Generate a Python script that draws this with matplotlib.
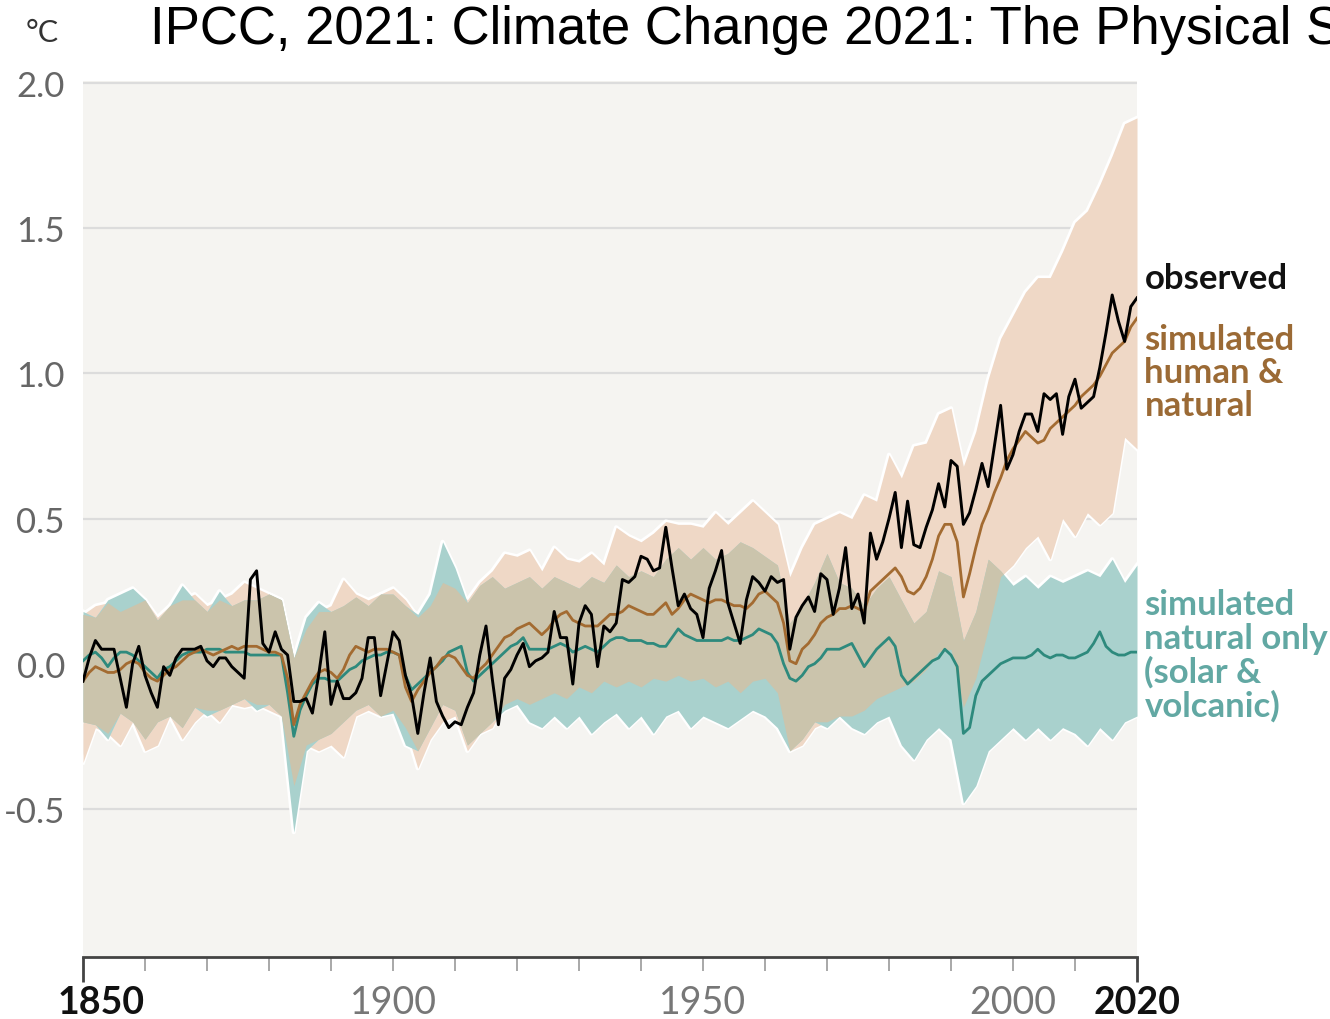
import numpy as np
import matplotlib
matplotlib.use("Agg")
import matplotlib.pyplot as plt
import matplotlib.transforms as mtransforms

# annual series 1850-2020 (deg C relative to 1850-1900)
years = np.arange(1850, 2021)

observed = [
    -0.06, 0.02, 0.08, 0.05, 0.05, 0.05, -0.05, -0.15, 0.00, 0.06,
    -0.04, -0.10, -0.15, -0.01, -0.04, 0.02, 0.05, 0.05, 0.05, 0.06,
    0.01, -0.01, 0.02, 0.02, -0.01, -0.03, -0.05, 0.29, 0.32, 0.07,
    0.04, 0.11, 0.05, 0.03, -0.13, -0.13, -0.12, -0.17, -0.04, 0.11,
    -0.14, -0.06, -0.12, -0.12, -0.10, -0.05, 0.09, 0.09, -0.11, 0.00,
    0.11, 0.08, -0.04, -0.11, -0.24, -0.10, 0.02, -0.13, -0.18, -0.22,
    -0.20, -0.21, -0.15, -0.10, 0.03, 0.13, -0.05, -0.21, -0.05, -0.02,
    0.03, 0.07, -0.01, 0.01, 0.02, 0.04, 0.18, 0.09, 0.09, -0.07,
    0.14, 0.20, 0.17, -0.01, 0.13, 0.11, 0.14, 0.29, 0.28, 0.30,
    0.37, 0.36, 0.32, 0.33, 0.47, 0.33, 0.20, 0.24, 0.19, 0.17,
    0.09, 0.26, 0.32, 0.39, 0.21, 0.14, 0.07, 0.22, 0.30, 0.28,
    0.25, 0.30, 0.28, 0.29, 0.05, 0.16, 0.20, 0.23, 0.18, 0.31,
    0.29, 0.17, 0.26, 0.40, 0.19, 0.24, 0.14, 0.45, 0.36, 0.42,
    0.50, 0.59, 0.40, 0.56, 0.41, 0.40, 0.47, 0.53, 0.62, 0.54,
    0.70, 0.68, 0.48, 0.52, 0.60, 0.69, 0.61, 0.75, 0.89, 0.67,
    0.72, 0.80, 0.86, 0.86, 0.80, 0.93, 0.91, 0.93, 0.79, 0.92,
    0.98, 0.88, 0.90, 0.92, 1.02, 1.14, 1.27, 1.18, 1.11, 1.23,
    1.26,
]

sim_human_natural = [
    -0.06, -0.03, -0.01, -0.02, -0.03, -0.03, -0.02, 0.00, 0.01, 0.00,
    -0.03, -0.05, -0.06, -0.04, -0.02, -0.01, 0.01, 0.03, 0.04, 0.05,
    0.04, 0.03, 0.04, 0.05, 0.06, 0.05, 0.06, 0.06, 0.06, 0.05,
    0.04, 0.04, 0.03, -0.05, -0.21, -0.14, -0.10, -0.06, -0.03, -0.02,
    -0.03, -0.05, -0.02, 0.03, 0.06, 0.05, 0.04, 0.05, 0.05, 0.05,
    0.04, 0.03, -0.08, -0.13, -0.09, -0.06, -0.03, -0.01, 0.02, 0.03,
    0.02, -0.01, -0.04, -0.05, -0.02, 0.00, 0.03, 0.06, 0.09, 0.10,
    0.12, 0.13, 0.14, 0.12, 0.10, 0.12, 0.15, 0.17, 0.18, 0.15,
    0.14, 0.13, 0.13, 0.13, 0.15, 0.17, 0.17, 0.18, 0.20, 0.19,
    0.18, 0.17, 0.17, 0.19, 0.21, 0.17, 0.19, 0.22, 0.24, 0.23,
    0.22, 0.21, 0.22, 0.22, 0.21, 0.20, 0.20, 0.19, 0.21, 0.24,
    0.25, 0.23, 0.21, 0.14, 0.01, 0.00, 0.05, 0.07, 0.10, 0.14,
    0.16, 0.17, 0.19, 0.19, 0.20, 0.19, 0.18, 0.25, 0.27, 0.29,
    0.31, 0.33, 0.30, 0.25, 0.24, 0.26, 0.30, 0.36, 0.44, 0.48,
    0.48, 0.42, 0.23, 0.31, 0.40, 0.48, 0.53, 0.59, 0.64, 0.70,
    0.74, 0.77, 0.80, 0.78, 0.76, 0.77, 0.81, 0.83, 0.85, 0.87,
    0.89, 0.92, 0.94, 0.96, 0.99, 1.03, 1.07, 1.09, 1.11, 1.16,
    1.19,
]

sim_natural = [
    0.01, 0.03, 0.04, 0.02, -0.01, 0.02, 0.04, 0.04, 0.03, 0.01,
    -0.01, -0.03, -0.05, -0.02, -0.01, 0.01, 0.03, 0.04, 0.04, 0.04,
    0.05, 0.05, 0.05, 0.04, 0.04, 0.04, 0.04, 0.03, 0.03, 0.03,
    0.03, 0.03, 0.03, -0.10, -0.25, -0.16, -0.11, -0.07, -0.05, -0.05,
    -0.06, -0.06, -0.04, -0.02, -0.01, 0.01, 0.02, 0.03, 0.03, 0.04,
    0.04, 0.03, -0.04, -0.09, -0.07, -0.05, -0.03, -0.01, 0.01, 0.04,
    0.05, 0.06, -0.03, -0.06, -0.04, -0.02, 0.00, 0.02, 0.04, 0.06,
    0.07, 0.09, 0.05, 0.05, 0.05, 0.05, 0.06, 0.07, 0.06, 0.04,
    0.05, 0.06, 0.05, 0.04, 0.06, 0.08, 0.09, 0.09, 0.08, 0.08,
    0.08, 0.07, 0.07, 0.06, 0.06, 0.09, 0.12, 0.10, 0.09, 0.08,
    0.08, 0.08, 0.08, 0.08, 0.09, 0.08, 0.08, 0.09, 0.10, 0.12,
    0.11, 0.10, 0.07, 0.00, -0.05, -0.06, -0.04, -0.01, 0.00, 0.02,
    0.05, 0.05, 0.05, 0.06, 0.07, 0.03, -0.01, 0.02, 0.05, 0.07,
    0.09, 0.06, -0.04, -0.07, -0.05, -0.03, -0.01, 0.01, 0.02, 0.05,
    0.03, -0.01, -0.24, -0.22, -0.11, -0.06, -0.04, -0.02, 0.00, 0.01,
    0.02, 0.02, 0.02, 0.03, 0.05, 0.03, 0.02, 0.03, 0.03, 0.02,
    0.02, 0.03, 0.04, 0.07, 0.11, 0.06, 0.04, 0.03, 0.03, 0.04,
    0.04,
]

# ranges, every second year
band_years = np.arange(1850, 2021, 2)

hn_upper = [
    0.17, 0.20, 0.21, 0.18, 0.20, 0.22, 0.16, 0.20, 0.22, 0.24,
    0.20, 0.22, 0.24, 0.28, 0.26, 0.24, 0.22, 0.02, 0.12, 0.18,
    0.20, 0.29, 0.24, 0.22, 0.24, 0.26, 0.22, 0.16, 0.20, 0.28,
    0.26, 0.22, 0.28, 0.32, 0.38, 0.37, 0.39, 0.32, 0.40, 0.36,
    0.35, 0.38, 0.34, 0.47, 0.44, 0.42, 0.45, 0.49, 0.48, 0.48,
    0.47, 0.52, 0.48, 0.52, 0.56, 0.52, 0.48, 0.30, 0.40, 0.48,
    0.50, 0.52, 0.50, 0.58, 0.56, 0.72, 0.64, 0.75, 0.76, 0.86,
    0.88, 0.68, 0.80, 0.98, 1.12, 1.20, 1.28, 1.33, 1.33, 1.42,
    1.52, 1.56, 1.65, 1.75, 1.86, 1.88,
]
hn_lower = [
    -0.34, -0.22, -0.24, -0.28, -0.20, -0.30, -0.28, -0.18, -0.26, -0.20,
    -0.16, -0.20, -0.14, -0.15, -0.14, -0.16, -0.18, -0.42, -0.28, -0.30,
    -0.28, -0.32, -0.18, -0.16, -0.18, -0.16, -0.22, -0.36, -0.26, -0.20,
    -0.18, -0.30, -0.24, -0.22, -0.14, -0.12, -0.14, -0.12, -0.10, -0.12,
    -0.08, -0.10, -0.06, -0.08, -0.06, -0.08, -0.05, -0.06, -0.04, -0.06,
    -0.05, -0.08, -0.06, -0.10, -0.06, -0.05, -0.10, -0.30, -0.28, -0.22,
    -0.20, -0.18, -0.18, -0.16, -0.12, -0.10, -0.08, -0.06, -0.02, 0.04,
    0.05, -0.15, -0.05, 0.12, 0.30, 0.34, 0.40, 0.44, 0.36, 0.50,
    0.44, 0.52, 0.48, 0.52, 0.78, 0.74,
]
nat_upper = [
    0.18, 0.16, 0.22, 0.24, 0.26, 0.22, 0.15, 0.20, 0.27, 0.22,
    0.18, 0.25, 0.20, 0.22, 0.22, 0.24, 0.22, 0.02, 0.16, 0.21,
    0.18, 0.20, 0.23, 0.20, 0.24, 0.24, 0.20, 0.17, 0.24, 0.42,
    0.33, 0.21, 0.27, 0.30, 0.26, 0.28, 0.30, 0.26, 0.30, 0.28,
    0.26, 0.30, 0.28, 0.34, 0.30, 0.32, 0.30, 0.36, 0.40, 0.36,
    0.40, 0.36, 0.38, 0.42, 0.40, 0.37, 0.34, 0.14, 0.20, 0.28,
    0.38, 0.28, 0.26, 0.20, 0.26, 0.30, 0.22, 0.14, 0.18, 0.32,
    0.30, 0.08, 0.18, 0.36, 0.32, 0.27, 0.30, 0.26, 0.30, 0.28,
    0.30, 0.32, 0.30, 0.36, 0.28, 0.34,
]
nat_lower = [
    -0.20, -0.21, -0.26, -0.17, -0.20, -0.26, -0.20, -0.18, -0.22, -0.15,
    -0.18, -0.16, -0.14, -0.12, -0.16, -0.14, -0.18, -0.58, -0.30, -0.26,
    -0.24, -0.20, -0.16, -0.14, -0.18, -0.17, -0.28, -0.30, -0.22, -0.14,
    -0.16, -0.28, -0.24, -0.20, -0.16, -0.14, -0.20, -0.22, -0.18, -0.22,
    -0.18, -0.24, -0.20, -0.17, -0.22, -0.18, -0.24, -0.18, -0.16, -0.22,
    -0.18, -0.20, -0.22, -0.19, -0.16, -0.18, -0.22, -0.30, -0.26, -0.20,
    -0.22, -0.18, -0.22, -0.24, -0.20, -0.18, -0.28, -0.33, -0.26, -0.22,
    -0.26, -0.48, -0.42, -0.30, -0.26, -0.22, -0.26, -0.22, -0.26, -0.22,
    -0.24, -0.28, -0.22, -0.26, -0.20, -0.18,
]

yticks = [-0.5, 0.0, 0.5, 1.0, 1.5, 2.0]
ytick_labels = ["-0.5", "0.0", "0.5", "1.0", "1.5", "2.0"]
xlabel_years = [1850, 1900, 1950, 2000, 2020]

PINK = "#efd8c6"
TEAL = "#a9d1cd"
OVERLAP = "#cbc4ac"
BROWN = "#a36b31"
GREEN = "#2e8a7d"
BG = "#f5f4f1"

fig = plt.figure(figsize=(13.3, 10.2), dpi=100)
ax = fig.add_axes([83 / 1330, 1 - 958 / 1020, 1054 / 1330, (958 - 82) / 1020])
ax.set_facecolor(BG)
ax.set_xlim(1850, 2020)
ax.set_ylim(-1.01, 2.007)

for y in yticks:
    ax.axhline(y, color="#dcdcdc", lw=1.6, zorder=0.5)

hn_upper = np.array(hn_upper)
hn_lower = np.array(hn_lower)
nat_upper = np.array(nat_upper)
nat_lower = np.array(nat_lower)

# white halo round the ranges
for arr in (hn_upper, hn_lower, nat_upper, nat_lower):
    ax.plot(band_years, arr, color="white", lw=3, zorder=1)

ax.fill_between(band_years, hn_lower, hn_upper, color=PINK, lw=0, zorder=2)
ax.fill_between(band_years, nat_lower, nat_upper, color=TEAL, lw=0, zorder=2)
lo = np.maximum(hn_lower, nat_lower)
hi = np.minimum(hn_upper, nat_upper)
ax.fill_between(band_years, lo, hi, where=hi > lo, interpolate=True,
                color=OVERLAP, lw=0, zorder=3)

ax.plot(years, sim_natural, color=GREEN, lw=2, zorder=4)
ax.plot(years, sim_human_natural, color=BROWN, lw=2, zorder=4)
ax.plot(years, observed, color="black", lw=2.1, zorder=5)

for s in ("top", "right", "left"):
    ax.spines[s].set_visible(False)
ax.spines["bottom"].set_color("#444444")
ax.spines["bottom"].set_linewidth(2)

ax.set_yticks(yticks)
ax.set_yticklabels(ytick_labels, family="Lato", fontsize=25, color="#666666")
ax.tick_params(axis="y", length=0, pad=13)

ax.set_xticks([1850, 2020])
ax.set_xticklabels([])
ax.set_xticks(np.arange(1860, 2020, 10), minor=True)
ax.tick_params(axis="x", which="major", direction="out", length=18,
               width=2, color="#444444")
ax.tick_params(axis="x", which="minor", direction="out", length=10,
               width=1.2, color="#9a9a9a")

xtrans = mtransforms.blended_transform_factory(ax.transData, ax.transAxes)
for yr in xlabel_years:
    bold = yr in (1850, 2020)
    shift = mtransforms.ScaledTranslation(0.18 if yr == 1850 else 0, 0,
                                          fig.dpi_scale_trans)
    ax.text(yr, -0.051, str(yr), transform=xtrans + shift, ha="center",
            va="center", family="Lato", fontsize=27,
            fontweight="bold" if bold else "normal",
            color="#111111" if bold else "#777777")

# series labels on the right
ax.text(2021.2, 1.33, "observed", family="Lato", fontsize=25,
        fontweight="bold", color="#111111", va="center", ha="left",
        clip_on=False)
ax.text(2021.2, 1.005, "simulated\nhuman &\nnatural", family="Lato",
        fontsize=25, fontweight="bold", color="#9b6a35", va="center",
        ha="left", linespacing=1.05, clip_on=False)
ax.text(2021.2, 0.03, "simulated\nnatural only\n(solar &\nvolcanic)",
        family="Lato", fontsize=25, fontweight="bold", color="#62a8a3",
        va="center", ha="left", linespacing=1.05, clip_on=False)

fig.text(42 / 1330, 1 - 33 / 1020, "°C", family="Lato", fontsize=22,
         color="#333333", ha="center", va="center")
fig.text(150 / 1330, 1 - 30 / 1020,
         "IPCC, 2021: Climate Change 2021: The Physical Science Basis",
         family="Liberation Sans", fontsize=38, color="black",
         ha="left", va="center")

fig.savefig("out.png", dpi=100)
